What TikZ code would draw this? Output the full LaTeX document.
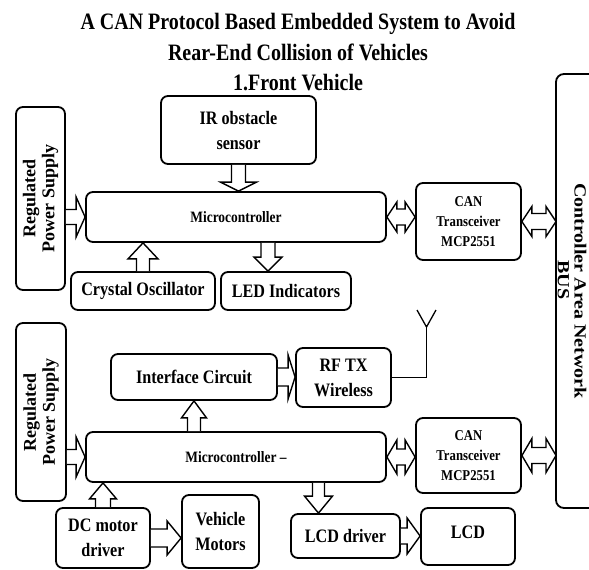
\documentclass[tikz,border=0pt]{standalone}
\usepackage{fontspec}
\setmainfont{Liberation Serif}[FakeStretch=0.85]
\newfontfamily\vfont{Liberation Serif}
\usetikzlibrary{calc}

% hollow block arrow: start, end, shaft half width, head half width, head length
\newcommand{\fatarrow}[5]{%
  \coordinate (fa1) at #1; \coordinate (fa2) at #2;
  \coordinate (fah) at ($(fa2)!#5!(fa1)$);
  \draw[fat] ($(fa1)!#3!90:(fa2)$) -- ($(fah)!#3!90:(fa2)$) -- ($(fah)!#4!90:(fa2)$)
    -- (fa2) -- ($(fah)!#4!-90:(fa2)$) -- ($(fah)!#3!-90:(fa2)$) -- ($(fa1)!#3!-90:(fa2)$);
}
% same, with a head at both ends
\newcommand{\fatdarrow}[5]{%
  \coordinate (fa1) at #1; \coordinate (fa2) at #2;
  \coordinate (fah) at ($(fa2)!#5!(fa1)$);
  \coordinate (fab) at ($(fa1)!#5!(fa2)$);
  \draw[fat] (fa1) -- ($(fab)!#4!90:(fa2)$) -- ($(fab)!#3!90:(fa2)$) -- ($(fah)!#3!90:(fa2)$)
    -- ($(fah)!#4!90:(fa2)$) -- (fa2) -- ($(fah)!#4!-90:(fa2)$) -- ($(fah)!#3!-90:(fa2)$)
    -- ($(fab)!#3!-90:(fa2)$) -- ($(fab)!#4!-90:(fa2)$) -- cycle;
}

\begin{document}
\begin{tikzpicture}[
  x=1pt, y=-1pt,
  box/.style={draw, rounded corners=7pt, line width=1.8pt, align=center, inner sep=2pt,
              font=\bfseries\fontsize{19}{25}\selectfont},
  small/.style={font=\bfseries\fontsize{15}{20}\selectfont},
  vtext/.style={font=\vfont\bfseries\fontsize{18}{19}\selectfont},
  bustext/.style={rotate=-90, inner sep=0pt, font=\vfont\bfseries\fontsize{20}{22}\selectfont},
  fat/.style={draw, fill=white, line width=1.4pt, line join=miter},
  wire/.style={line width=1.3pt}
]
  \useasboundingbox (0,0) rectangle (589,570);

  \node[anchor=north, inner sep=0pt, align=center,
        font=\bfseries\fontsize{23.5}{30.5}\selectfont] (title) at (298,13)
    {A CAN Protocol Based Embedded System to Avoid\\Rear-End Collision of Vehicles\\1.Front Vehicle};

  % front vehicle
  \node[box, vtext, rotate=90, minimum width=183pt, minimum height=49pt] (pwr1) at (40.5,198.5)
    {Regulated\\Power Supply};
  \node[box, minimum width=155pt, minimum height=68pt] (ir) at (238.5,130) {IR obstacle\\sensor};
  \node[box, font=\bfseries\fontsize{15.8}{20}\selectfont, minimum width=300pt, minimum height=50pt]
    (mc1) at (236,217) {Microcontroller};
  \node[box, small, minimum width=105pt, minimum height=77pt] (can1) at (468.5,221.5)
    {CAN\\Transceiver\\MCP2551};
  \node[box, minimum width=144pt, minimum height=38pt] (crys) at (143,291) {Crystal Oscillator};
  \node[box, minimum width=130pt, minimum height=38pt] (led) at (286,291) {LED Indicators};

  % rear vehicle
  \node[box, vtext, rotate=90, minimum width=178pt, minimum height=50pt] (pwr2) at (41,412)
    {Regulated\\Power Supply};
  \node[box, minimum width=166pt, minimum height=46pt] (intf) at (194,377) {Interface Circuit};
  \node[box, minimum width=95pt, minimum height=59pt] (rf) at (343.5,377.5) {RF TX\\Wireless};
  \node[box, font=\bfseries\fontsize{15.8}{20}\selectfont, minimum width=300pt, minimum height=50pt]
    (mc2) at (236,457) {Microcontroller –};
  \node[box, small, minimum width=105pt, minimum height=75pt] (can2) at (468.5,455.5)
    {CAN\\Transceiver\\MCP2551};
  \node[box, minimum width=94pt, minimum height=60pt] (dc) at (103,538) {DC motor\\driver};
  \node[box, minimum width=77pt, minimum height=73pt] (veh) at (220.5,531.5) {Vehicle\\Motors};
  \node[box, minimum width=109pt, minimum height=44pt] (lcdd) at (345.5,536) {LCD driver};
  \node[box, minimum width=94pt, minimum height=57pt] (lcd) at (468,536.5) {\raisebox{8pt}{LCD}};

  % CAN bus
  \draw[line width=1.8pt, rounded corners=8pt] (592,74) -| (556,508) -- (592,508);
  \coordinate (busw) at (556,291);
  \node[bustext] (bus1) at (580.5,291) {\scalebox{1}[0.85]{Controller Area Network}};
  \node[bustext] (bus2) at (563.5,280) {\scalebox{1}[0.85]{BUS}};

  % antenna
  \coordinate (ant) at (426.5,327);
  \draw[wire] (rf.east) -| (ant);
  \draw[wire] (417,310) -- (ant) -- (436,310);

  % block arrows
  \fatarrow{(ir.south)}{(ir.south |- mc1.north)}{7pt}{18pt}{9pt}
  \fatarrow{(pwr1.south |- mc1.west)}{(mc1.west)}{7.5pt}{20pt}{9pt}
  \fatarrow{(crys.north)}{(crys.north |- mc1.south)}{6.5pt}{15pt}{16pt}
  \coordinate (ledin) at ([xshift=-18pt]led.north);
  \fatarrow{(ledin |- mc1.south)}{(ledin)}{7pt}{14pt}{14pt}
  \fatdarrow{(mc1.east)}{(mc1.east -| can1.west)}{8pt}{15pt}{10pt}
  \fatdarrow{(can1.east)}{(can1.east -| busw)}{8pt}{15pt}{10pt}

  \fatarrow{(intf.east)}{(intf.east -| rf.west)}{9pt}{22pt}{7pt}
  \fatarrow{(intf.south |- mc2.north)}{(intf.south)}{6.5pt}{12.5pt}{17pt}
  \fatarrow{(pwr2.south |- mc2.west)}{(mc2.west)}{7.5pt}{20pt}{9pt}
  \fatdarrow{(mc2.east)}{(mc2.east -| can2.west)}{8pt}{17pt}{10pt}
  \fatdarrow{(can2.east)}{(can2.east -| busw)}{8pt}{17pt}{10pt}
  \fatarrow{(dc.north)}{(dc.north |- mc2.south)}{7.5pt}{13.5pt}{16pt}
  \fatarrow{(dc.east)}{(dc.east -| veh.west)}{9pt}{17pt}{14pt}
  \coordinate (lcdin) at ([xshift=-27pt]lcdd.north);
  \fatarrow{(lcdin |- mc2.south)}{(lcdin)}{6pt}{14pt}{17pt}
  \fatarrow{(lcdd.east)}{(lcdd.east -| lcd.west)}{8pt}{18pt}{13pt}
\end{tikzpicture}
\end{document}
